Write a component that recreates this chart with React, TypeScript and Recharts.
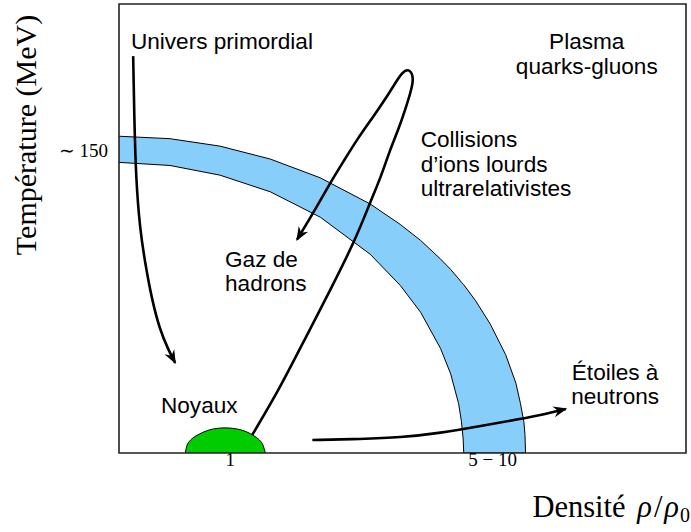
import React from 'react';
import { ComposedChart, Area, Line, XAxis, YAxis, ReferenceArea, ReferenceDot } from 'recharts';

// schematic density (0-100, arbitrary) vs temperature (MeV)
const bandX = [0, 9.0, 17.8, 26.7, 35.5, 44.3, 49.6, 53.2, 56.7, 58.5, 59.9, 60.4, 60.7, 60.8, 62.9, 65.5, 68.2, 70.0, 70.8, 71.4, 71.6, 71.7];
const bandInner = [141.1, 139.6, 134.9, 126.8, 114.5, 96.5, 81.4, 68.3, 50.8, 38.4, 23.9, 15.2, 6.8, 0, 0, 0, 0, 0, 0, 0, 0, 0];
const bandOuter = [153.8, 152.6, 149.0, 142.7, 133.6, 120.9, 111.0, 103.2, 94.2, 89.1, 84.6, 82.9, 82.0, 81.7, 73.9, 62.5, 47.7, 33.9, 24.1, 15.2, 9.0, 0];

const nucleiX = [11.7, 12.0, 12.5, 13.4, 15.2, 16.9, 18.7, 20.5, 22.3, 24.0, 24.9, 25.4, 25.8];
const nucleiY = [0, 3.8, 5.9, 8.0, 10.5, 11.8, 12.2, 11.8, 10.5, 8.0, 5.9, 3.8, 0];

const earlyX = [2.5, 2.7, 3.0, 3.7, 4.6, 5.8, 7.2, 8.7, 9.9];
const earlyY = [192.7, 162.0, 132.8, 108.5, 92.5, 74.5, 59.9, 50.1, 43.8];

const collisionX = [23.5, 28.4, 32.9, 37.3, 41.7, 44.3, 46.3, 47.7, 49.3, 50.5, 51.5, 52.0, 51.3, 50.0, 47.9, 44.9, 42.0, 39.6, 37.3, 34.6, 31.4];
const collisionY = [8.8, 31.6, 56.0, 79.3, 103.6, 121.7, 134.8, 146.5, 157.2, 166.9, 175.7, 182.0, 186.5, 185.5, 175.7, 163.5, 152.3, 141.6, 131.4, 118.2, 103.6];

const starX = [34.1, 42.6, 49.6, 56.7, 63.8, 70.8, 75.3, 78.8];
const starY = [6.3, 6.8, 7.5, 9.7, 13.1, 16.5, 19.0, 21.4];

const xTicks = [19.6, 65.9];
const xTickLabels = ['1', '5 − 10'];
const yTicks = [150];
const yTickLabels = ['∼ 150'];

const notes = [
  { x: 2.1, y: 196.1, lines: ['Univers primordial'], anchor: 'start' },
  { x: 82.5, y: 196.1, lines: ['Plasma', 'quarks-gluons'], anchor: 'middle' },
  { x: 53.2, y: 148.4, lines: ['Collisions', 'd’ions lourds', 'ultrarelativistes'], anchor: 'start' },
  { x: 18.7, y: 90.5, lines: ['Gaz de', 'hadrons'], anchor: 'start' },
  { x: 7.4, y: 19.5, lines: ['Noyaux'], anchor: 'start' },
  { x: 87.5, y: 35.5, lines: ['Étoiles à', 'neutrons'], anchor: 'middle' },
];

const toPts = (xs: number[], ys: number[]) => xs.map((x, i) => ({ x, y: ys[i] }));

const bandData = bandX.map((x, i) => ({ x, inner: bandInner[i], outer: bandOuter[i] }));
const nucleiData = toPts(nucleiX, nucleiY);
const earlyData = toPts(earlyX, earlyY);
const collisionData = toPts(collisionX, collisionY);
const starData = toPts(starX, starY);

const sansFont = '"Liberation Sans", Arial, sans-serif';
const serifFont = '"Liberation Serif", "Times New Roman", serif';

const NoteShape = (note: any) => (props: any) => (
  <text x={props.cx} y={props.cy} textAnchor={note.anchor} fontFamily={sansFont} fontSize={22.6} fill="#000">
    {note.lines.map((l: string, i: number) => (
      <tspan key={i} x={props.cx} dy={i === 0 ? 0 : 24.5}>{l}</tspan>
    ))}
  </text>
);

const XTick = (props: any) => {
  const idx = xTicks.indexOf(props.payload.value);
  return (
    <text x={props.x} y={props.y} dy={13} textAnchor="middle" fontFamily={serifFont} fontSize={19} fill="#000">
      {xTickLabels[idx]}
    </text>
  );
};

const YTick = (props: any) => {
  const idx = yTicks.indexOf(props.payload.value);
  return (
    <text x={props.x} y={props.y} dy={13} textAnchor="end" fontFamily={serifFont} fontSize={19} fill="#000">
      {yTickLabels[idx]}
    </text>
  );
};

export default function App() {
  const arrowProps = {
    dataKey: 'y',
    type: 'basis' as const,
    stroke: '#000',
    strokeWidth: 2.6,
    dot: false,
    activeDot: false,
    isAnimationActive: false,
    markerEnd: 'url(#arrowHead)',
  };
  return (
    <div style={{ position: 'absolute', left: 0, top: 0, width: 691, height: 532, background: '#fff' }}>
      <svg width={0} height={0} style={{ position: 'absolute' }}>
        <defs>
          <marker id="arrowHead" markerUnits="userSpaceOnUse" markerWidth={18} markerHeight={14}
            viewBox="-16 -7 18 14" refX={-1.5} refY={0} orient="auto">
            <path d="M0,0 L-14,-5.5 L-9.5,0 L-14,5.5 Z" fill="#000" />
          </marker>
        </defs>
      </svg>
      <ComposedChart width={691} height={532} data={bandData} margin={{ top: 4, right: 5, bottom: 0, left: 0 }}>
        <XAxis
          dataKey="x"
          type="number"
          domain={[0, 100]}
          allowDataOverflow
          ticks={xTicks}
          tick={<XTick />}
          tickLine={false}
          tickSize={0}
          tickMargin={0}
          height={79}
          axisLine={false}
          label={{
            content: (p: any) => {
              const vb = p.viewBox || p;
              return (
                <text x={vb.x + vb.width + 4} y={vb.y + 64} textAnchor="end" fontFamily={serifFont} fontSize={30.5} fill="#000">
                  Densité<tspan dx={4} fontStyle="italic">{' ρ'}</tspan>
                  <tspan dx={2}>/</tspan>
                  <tspan dx={2} fontStyle="italic">ρ</tspan>
                  <tspan dx={1} fontSize={20} dy={5}>0</tspan>
                </text>
              );
            },
          }}
        />
        <YAxis
          type="number"
          domain={[0, 218]}
          allowDataOverflow
          ticks={yTicks}
          tick={<YTick />}
          tickLine={false}
          tickSize={0}
          tickMargin={11}
          width={119}
          axisLine={false}
          label={{
            content: (p: any) => {
              const vb = p.viewBox || p;
              const cx = vb.x + 36;
              const cy = vb.y + 131;
              return (
                <text x={cx} y={cy} transform={`rotate(-90, ${cx}, ${cy})`} textAnchor="middle" fontFamily={serifFont} fontSize={30} fill="#000">
                  Température (MeV)
                </text>
              );
            },
          }}
        />
        <Area
          dataKey={(d: any) => [d.inner, d.outer]}
          type="linear"
          fill="#87cefa"
          fillOpacity={1}
          stroke="#000"
          strokeWidth={1}
          isAnimationActive={false}
          activeDot={false}
        />
        <Area
          data={nucleiData}
          dataKey="y"
          type="natural"
          fill="#00cc00"
          fillOpacity={1}
          stroke="#000"
          strokeWidth={1}
          isAnimationActive={false}
          activeDot={false}
        />
        <Line data={earlyData} {...arrowProps} />
        <Line data={collisionData} {...arrowProps} />
        <Line data={starData} {...arrowProps} />
        <ReferenceArea x1={0} x2={100} y1={0} y2={218} fill="none" stroke="#222" strokeWidth={1.6} />
        {notes.map((n, i) => (
          <ReferenceDot key={i} x={n.x} y={n.y} r={0} shape={NoteShape(n)} />
        ))}
      </ComposedChart>
    </div>
  );
}
